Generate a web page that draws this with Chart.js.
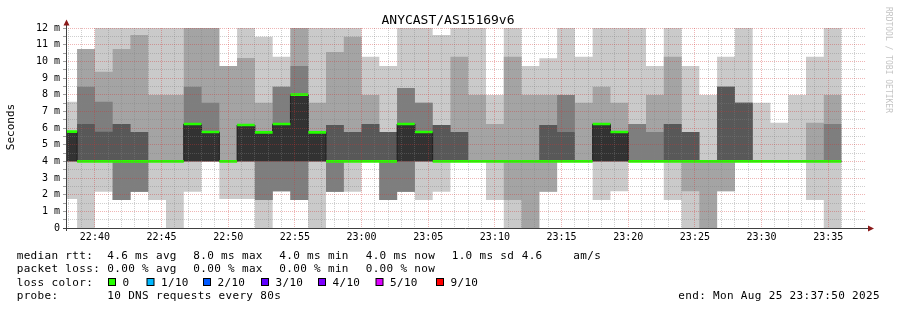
<!DOCTYPE html>
<html>
<head>
<meta charset="utf-8">
<script src="https://cdn.jsdelivr.net/npm/chart.js@4.4.1/dist/chart.umd.min.js"></script>
<style>
  html, body { margin: 0; padding: 0; background: #fff; }
  #wrap { width: 897px; height: 310px; }
</style>
</head>
<body>
<div id="wrap"><canvas id="smoke" width="897" height="310"></canvas></div>
<script>
// start of each 80s step (RRD rows), the last row ends at stepEnd
const steps = [
  "22:37:20","22:38:40","22:40:00","22:41:20","22:42:40","22:44:00","22:45:20","22:46:40","22:48:00","22:49:20",
  "22:50:40","22:52:00","22:53:20","22:54:40","22:56:00","22:57:20","22:58:40","23:00:00","23:01:20","23:02:40",
  "23:04:00","23:05:20","23:06:40","23:08:00","23:09:20","23:10:40","23:12:00","23:13:20","23:14:40","23:16:00",
  "23:17:20","23:18:40","23:20:00","23:21:20","23:22:40","23:24:00","23:25:20","23:26:40","23:28:00","23:29:20",
  "23:30:40","23:32:00","23:33:20","23:34:40"
];
const stepEnd = "23:36:00";

// sorted ping times (ms) for each row, ping1 = fastest ... ping10 = slowest
const p1 = [1.74,0,2.18,1.68,2.18,1.68,0,2.18,4,1.74, 1.74,0,2.2,1.68,0,2.18,2.18,4,1.68,2.18,
            1.68,2.18,4,4,1.68,0,0,2.18,4,4, 1.68,2.2,4,4,1.68,0,0,2.2,4,4, 4,4,1.68,0];
const p2 = [4,4,4,1.68,2.18,4,4,4,4,4, 4,1.68,2.2,1.68,4,2.18,4,4,1.68,2.18,
            4,4,4,4,4,1.68,0,2.18,4,4, 4,4,4,4,4,2.2,0,2.2,4,4, 4,4,4,4];
const p3 = [4,4,4,1.68,2.18,4,4,4,4,4, 4,1.68,2.2,1.68,4,2.18,4,4,1.68,2.18,
            4,4,4,4,4,4,4,4,4,4, 4,4,4,4,4,4,4,4,4,4, 4,4,4,4];
const p4 = [4,4,4,4,4,4,4,4,4,4, 4,4,4,4,4,4,4,4,4,4,
            4,4,4,4,4,4,4,4,4,4, 4,4,4,4,4,4,4,4,4,4, 4,4,4,4];
const p5 = [4,4,4,4,4,4,4,4,4,4, 4,4,4,4,4,4,4,4,4,4,
            4,4,4,4,4,4,4,4,4,4, 4,4,4,4,4,4,4,4,4,4, 4,4,4,4];
const median = [5.78,4,4,4,4,4,4,6.24,5.76,4, 6.18,5.74,6.24,8.0,5.74,4,4,4,4,6.24,
            5.76,4,4,4,4,4,4,4,4,4, 6.24,5.76,4,4,4,4,4,4,4,4, 4,4,4,4];
const p7 = [5.78,6.24,5.78,6.24,5.76,4,4,6.24,5.76,4, 6.18,5.74,6.24,8.0,5.74,6.18,5.76,6.24,5.76,6.24,
            5.76,6.18,5.76,4,4,4,4,6.18,5.76,4, 6.24,5.76,4,4,6.24,5.76,4,8.48,7.52,4, 4,4,4,4];
const p8 = [5.78,8.48,7.58,6.24,5.76,4,4,8.48,7.52,4, 6.18,5.74,8.48,9.72,5.74,6.18,5.76,6.24,5.76,8.4,
            7.52,6.18,5.76,4,4,4,4,6.18,7.98,4, 6.24,5.76,6.24,5.76,6.24,5.76,4,8.48,7.52,4, 4,4,4,6.24];
const p9 = [5.78,10.74,9.38,10.74,11.58,7.98,7.98,12,12,9.72, 10.2,7.52,8.48,12,7.52,10.56,11.48,7.98,5.76,8.4,
            7.52,6.18,10.28,7.98,6.24,10.28,7.98,7.98,7.98,7.52, 8.48,7.52,6.24,7.98,10.28,5.76,4,8.48,7.52,4, 4,4,6.32,7.98];
const p10 = [7.58,10.74,12,12,12,12,12,12,12,9.72, 12,11.48,10.28,12,12,12,12,10.28,9.72,12,
            12,11.58,12,12,7.98,12,9.72,10.18,12,10.28, 12,12,12,9.72,12,9.72,7.98,10.28,12,7.52, 6.32,7.98,10.28,12];

const yTicks = [0,1,2,3,4,5,6,7,8,9,10,11,12];

// legend texts
const rttStats = ["4.6 ms avg", "8.0 ms max", "4.0 ms min", "4.0 ms now", "1.0 ms sd", "4.6", "am/s"];
const lossStats = ["0.00 % avg", "0.00 % max", "0.00 % min", "0.00 % now"];
const lossLabels = ["0", "1/10", "2/10", "3/10", "4/10", "5/10", "9/10"];
const lossColors = ["#26ff00", "#00b8ff", "#0059ff", "#5e00ff", "#7e00ff", "#dd00ff", "#ff0000"];

const toSec = s => { const [h, m, x] = s.split(":").map(Number); return h * 3600 + m * 60 + x; };
const xMin = toSec("22:37:50");
const xMax = toSec("23:37:50");
const two = n => String(n).padStart(2, "0");
const hhmm = v => two(Math.floor(v / 3600)) + ":" + two(Math.floor(v % 3600 / 60));

function stepPoints(vals) {
  const pts = steps.map((t, i) => ({ x: toSec(t), y: Math.min(vals[i], 12) }));
  pts.push({ x: toSec(stepEnd), y: Math.min(vals[vals.length - 1], 12) });
  return pts;
}

const MINOR = "rgba(130,130,130,0.38)";
const MAJOR = "rgba(210,50,50,0.36)";
const MONO = "'DejaVu Sans Mono', monospace";

function band(vals, extra) {
  return Object.assign({
    data: stepPoints(vals),
    stepped: true,
    borderWidth: 0,
    borderColor: "transparent",
    pointRadius: 0,
    pointHoverRadius: 0,
    fill: false,
    order: 10
  }, extra);
}

const half = 0.08; // half height of the green median bar
const datasets = [
  band(median, { borderWidth: 1, borderColor: "#202020", order: 1 }),       // 0
  band(p1), band(p2), band(p3), band(p4), band(p5),                           // 1..5
  band(median, { fill: 5, backgroundColor: "#323232", order: 2 }),            // 6
  band(p7, { fill: 4, backgroundColor: "#585858", order: 3 }),                // 7
  band(p8, { fill: 3, backgroundColor: "#7e7e7e", order: 4 }),                // 8
  band(p9, { fill: 2, backgroundColor: "#a4a4a4", order: 5 }),                // 9
  band(p10, { fill: 1, backgroundColor: "#cacaca", order: 6 }),               // 10
  band(median.map(v => v + half), { fill: 12, backgroundColor: lossColors[0], order: 0 }), // 11
  band(median.map(v => v - half), { order: 0 })                               // 12
];

const decor = {
  id: "decor",
  afterDraw(chart) {
    const { ctx, chartArea: a } = chart;
    ctx.save();
    // axes
    ctx.strokeStyle = "#404040";
    ctx.lineWidth = 1;
    ctx.beginPath();
    ctx.moveTo(a.left + 0.5, a.bottom + 3);
    ctx.lineTo(a.left + 0.5, a.top - 3);
    ctx.moveTo(a.left - 3, a.bottom + 0.5);
    ctx.lineTo(a.right + 2, a.bottom + 0.5);
    ctx.stroke();
    // arrows
    ctx.fillStyle = "#8b1a1a";
    ctx.beginPath();
    ctx.moveTo(a.left - 2.5, a.top - 2.5);
    ctx.lineTo(a.left + 3.5, a.top - 2.5);
    ctx.lineTo(a.left + 0.5, a.top - 8.5);
    ctx.closePath();
    ctx.fill();
    ctx.beginPath();
    ctx.moveTo(a.right + 2, a.bottom - 2.5);
    ctx.lineTo(a.right + 2, a.bottom + 3.5);
    ctx.lineTo(a.right + 8, a.bottom + 0.5);
    ctx.closePath();
    ctx.fill();

    // title
    ctx.fillStyle = "#000";
    ctx.font = "13px " + MONO;
    ctx.textAlign = "center";
    ctx.textBaseline = "alphabetic";
    ctx.fillText("ANYCAST/AS15169v6", 448, 24);

    // y title
    ctx.save();
    ctx.translate(11, 127);
    ctx.rotate(-Math.PI / 2);
    ctx.font = "11px " + MONO;
    ctx.textBaseline = "middle";
    ctx.fillText("Seconds", 0, 0);
    ctx.restore();

    // watermark
    ctx.save();
    ctx.translate(888, 60);
    ctx.rotate(Math.PI / 2);
    ctx.font = "8px " + MONO;
    ctx.fillStyle = "#c4c4c4";
    ctx.textBaseline = "middle";
    ctx.fillText("RRDTOOL / TOBI OETIKER", 0, 0);
    ctx.restore();

    // legend
    ctx.font = "11px " + MONO;
    ctx.letterSpacing = "0.33px";
    ctx.textAlign = "left";
    ctx.fillStyle = "#000";
    const col = [107.3, 193.3, 279.3, 365.7];
    ctx.fillText("median rtt:", 16.7, 258.5);
    rttStats.slice(0, 4).forEach((s, i) => ctx.fillText(s, col[i], 258.5));
    ctx.fillText(rttStats[4], 451.7, 258.5);
    ctx.fillText(rttStats[5], 521.7, 258.5);
    ctx.fillText(rttStats[6], 573.3, 258.5);
    ctx.fillText("packet loss:", 16.7, 272);
    lossStats.forEach((s, i) => ctx.fillText(s, col[i], 272));
    ctx.fillText("loss color:", 16.7, 285.7);
    const boxX = [108.5, 147, 203.5, 261.5, 318.5, 376, 436.5];
    lossLabels.forEach((s, i) => {
      ctx.fillStyle = lossColors[i];
      ctx.fillRect(boxX[i], 278.5, 7, 7);
      ctx.strokeStyle = "#000";
      ctx.strokeRect(boxX[i], 278.5, 7, 7);
      ctx.fillStyle = "#000";
      ctx.fillText(s, boxX[i] + 14, 285.7);
    });
    ctx.fillText("probe:", 16.7, 299.3);
    ctx.fillText("10 DNS requests every 80s", 107.3, 299.3);
    ctx.fillText("end: Mon Aug 25 23:37:50 2025", 678.3, 299.3);
    ctx.restore();
  }
};

new Chart(document.getElementById("smoke"), {
  type: "line",
  data: { datasets },
  plugins: [decor],
  options: {
    responsive: false,
    animation: false,
    devicePixelRatio: 1,
    events: [],
    layout: { padding: { left: 0, right: 31, top: 28, bottom: 62 } },
    plugins: { legend: { display: false }, title: { display: false }, tooltip: { enabled: false } },
    scales: {
      x: {
        type: "linear",
        min: xMin,
        max: xMax,
        afterBuildTicks: s => {
          const t = [];
          for (let v = toSec("22:38:00"); v <= xMax; v += 60) t.push({ value: v });
          s.ticks = t;
        },
        afterFit: s => { s.height = 20; },
        grid: {
          z: 1,
          drawTicks: false,
          lineWidth: 1,
          color: c => (c.tick && c.tick.value % 300 === 0) ? MAJOR : MINOR
        },
        border: { display: false, dash: [1, 1] },
        ticks: {
          autoSkip: false,
          maxRotation: 0,
          padding: 3,
          color: "#000",
          font: { family: MONO, size: 10 },
          callback: v => v % 300 === 0 ? hhmm(v) : ""
        }
      },
      y: {
        min: 0,
        max: 12,
        afterBuildTicks: s => {
          const t = [];
          yTicks.forEach(v => { t.push({ value: v }); if (v < 12) t.push({ value: v + 0.5 }); });
          s.ticks = t;
        },
        afterFit: s => { s.width = 66; },
        grid: {
          z: 1,
          lineWidth: 1,
          tickLength: 3,
          tickColor: "#a0a0a0",
          color: c => (c.tick && Number.isInteger(c.tick.value)) ? MAJOR : MINOR
        },
        border: { display: false, dash: [1, 1] },
        ticks: {
          autoSkip: false,
          padding: 3,
          color: "#000",
          font: { family: MONO, size: 10 },
          callback: v => Number.isInteger(v) ? (v === 0 ? "0" : v + " m") : ""
        }
      }
    }
  }
});
</script>
</body>
</html>
